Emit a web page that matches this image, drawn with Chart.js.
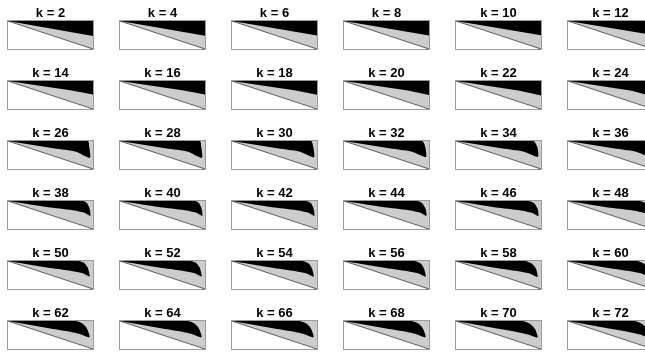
<!DOCTYPE html>
<html>
<head>
<meta charset="utf-8">
<script src="https://cdn.jsdelivr.net/npm/chart.js@4/dist/chart.umd.min.js"></script>
<style>
  html, body { margin: 0; padding: 0; background: #ffffff; overflow: hidden; }
  body { width: 645px; height: 352px; position: relative; }
  canvas { position: absolute; }
</style>
</head>
<body>
<script>
// Panel labels, one per small multiple (read row by row)
const kValues = [2, 4, 6, 8, 10, 12, 14, 16, 18, 20, 22, 24, 26, 28, 30, 32, 34, 36,
                 38, 40, 42, 44, 46, 48, 50, 52, 54, 56, 58, 60, 62, 64, 66, 68, 70, 72];

// Outline of the black region in each panel: [x, depth] with x in 0..1 left to right
// and depth in 0..1 measured down from the top edge. The path closes back to [0, 0].
const blackRegion = [
  [[0,0],[1,0],[1,0.54]],
  [[0,0],[1,0],[1,0.53]],
  [[0,0],[1,0],[1,0.52]],
  [[0,0],[1,0],[1,0.52]],
  [[0,0],[1,0],[1,0.51]],
  [[0,0],[1,0],[1,0.50]],

  [[0,0],[1,0],[1,0.48],[0.75,0.34]],
  [[0,0],[1,0],[1,0.48],[0.75,0.34]],
  [[0,0],[1,0],[1,0.49],[0.75,0.34]],
  [[0,0],[1,0],[1,0.50],[0.75,0.34]],
  [[0,0],[1,0],[1,0.52],[0.75,0.35]],
  [[0,0],[1,0],[1,0.55],[0.75,0.35]],

  [[0,0],[0.94,0],[0.955,0.2],[0.965,0.6],[0.8,0.38],[0.55,0.27]],
  [[0,0],[0.94,0],[0.955,0.2],[0.965,0.6],[0.8,0.38],[0.55,0.27]],
  [[0,0],[0.93,0],[0.955,0.2],[0.965,0.58],[0.8,0.38],[0.55,0.27]],
  [[0,0],[0.92,0],[0.955,0.2],[0.965,0.57],[0.8,0.38],[0.55,0.27]],
  [[0,0],[0.91,0],[0.955,0.2],[0.965,0.56],[0.8,0.38],[0.55,0.27]],
  [[0,0],[0.9,0],[0.955,0.2],[0.965,0.55],[0.8,0.38],[0.55,0.27]],

  [[0,0],[0.88,0],[0.93,0.08],[0.96,0.28],[0.97,0.53],[0.9,0.42],[0.75,0.32],[0.47,0.22]],
  [[0,0],[0.88,0],[0.93,0.08],[0.96,0.28],[0.97,0.53],[0.9,0.42],[0.75,0.32],[0.47,0.22]],
  [[0,0],[0.87,0],[0.93,0.08],[0.96,0.28],[0.97,0.53],[0.9,0.42],[0.75,0.32],[0.47,0.22]],
  [[0,0],[0.86,0],[0.92,0.08],[0.96,0.28],[0.97,0.53],[0.9,0.42],[0.75,0.32],[0.47,0.22]],
  [[0,0],[0.85,0],[0.92,0.08],[0.96,0.28],[0.97,0.54],[0.9,0.43],[0.75,0.33],[0.47,0.23]],
  [[0,0],[0.84,0],[0.91,0.08],[0.96,0.28],[0.97,0.54],[0.9,0.43],[0.75,0.33],[0.47,0.23]],

  [[0,0],[0.83,0],[0.9,0.08],[0.94,0.25],[0.96,0.55],[0.88,0.44],[0.72,0.34],[0.47,0.24]],
  [[0,0],[0.83,0],[0.9,0.08],[0.94,0.25],[0.96,0.55],[0.88,0.44],[0.72,0.34],[0.47,0.24]],
  [[0,0],[0.82,0],[0.9,0.08],[0.94,0.26],[0.96,0.56],[0.88,0.45],[0.72,0.35],[0.47,0.24]],
  [[0,0],[0.82,0],[0.9,0.08],[0.94,0.26],[0.96,0.56],[0.88,0.45],[0.72,0.35],[0.47,0.24]],
  [[0,0],[0.81,0],[0.89,0.09],[0.94,0.27],[0.96,0.57],[0.88,0.46],[0.72,0.36],[0.47,0.25]],
  [[0,0],[0.81,0],[0.89,0.09],[0.94,0.27],[0.96,0.57],[0.88,0.46],[0.72,0.36],[0.47,0.25]],

  [[0,0],[0.8,0],[0.88,0.1],[0.93,0.28],[0.96,0.58],[0.85,0.47],[0.7,0.37],[0.48,0.26]],
  [[0,0],[0.8,0],[0.88,0.1],[0.93,0.28],[0.96,0.58],[0.85,0.47],[0.7,0.37],[0.48,0.26]],
  [[0,0],[0.79,0],[0.88,0.1],[0.93,0.28],[0.96,0.58],[0.85,0.47],[0.7,0.37],[0.48,0.26]],
  [[0,0],[0.79,0],[0.88,0.1],[0.93,0.28],[0.96,0.58],[0.85,0.47],[0.7,0.37],[0.48,0.26]],
  [[0,0],[0.78,0],[0.87,0.1],[0.93,0.29],[0.96,0.59],[0.85,0.48],[0.7,0.38],[0.48,0.27]],
  [[0,0],[0.78,0],[0.87,0.1],[0.93,0.29],[0.96,0.59],[0.85,0.48],[0.7,0.38],[0.48,0.27]]
];

// The diagonal from the top-left to the bottom-right corner of each panel
const diagonal = [[0, 0], [1, 1]];

const COLS = 6;
const CELL_W = 112, CELL_H = 60;
const BOX_W = 85, BOX_H = 29;
const BOX_LEFT = 8, BOX_TOP = 20;

// Grey frame around each plotting region
const framePlugin = {
  id: 'frame',
  afterDraw(chart) {
    const {ctx, chartArea: a} = chart;
    ctx.save();
    ctx.strokeStyle = '#9a9a9a';
    ctx.lineWidth = 1;
    ctx.strokeRect(Math.round(a.left) - 0.5, Math.round(a.top) - 0.5,
                   Math.round(a.right - a.left) + 1, Math.round(a.bottom - a.top) + 1);
    ctx.restore();
  }
};

const toPoints = list => list.map(([x, y]) => ({x, y}));

kValues.forEach((k, i) => {
  const col = i % COLS, row = Math.floor(i / COLS);
  const canvas = document.createElement('canvas');
  canvas.width = CELL_W;
  canvas.height = CELL_H;
  canvas.style.left = (col * CELL_W) + 'px';
  canvas.style.top = (row * CELL_H) + 'px';
  document.body.appendChild(canvas);

  // curved outlines only for the rounded, fin-like regions
  const curved = blackRegion[i].length > 5;

  new Chart(canvas, {
    type: 'scatter',
    data: {
      datasets: [
        {
          // diagonal line drawn over the fills
          data: toPoints(diagonal),
          showLine: true,
          borderColor: '#3a3a3a',
          borderWidth: 0.8,
          pointRadius: 0,
          fill: false,
          order: 0
        },
        {
          data: toPoints(blackRegion[i]),
          showLine: true,
          borderColor: '#000000',
          borderWidth: 0,
          backgroundColor: '#000000',
          pointRadius: 0,
          tension: curved ? 0.2 : 0,
          fill: 'shape',
          order: 1
        },
        {
          // grey wedge between the diagonal and the top edge
          data: toPoints(diagonal),
          showLine: true,
          borderWidth: 0,
          backgroundColor: '#cccccc',
          pointRadius: 0,
          fill: {value: 0},
          order: 2
        }
      ]
    },
    options: {
      responsive: false,
      animation: false,
      events: [],
      layout: {
        padding: {
          left: BOX_LEFT,
          right: CELL_W - BOX_LEFT - BOX_W,
          top: 0,
          bottom: CELL_H - BOX_TOP - BOX_H
        }
      },
      scales: {
        x: {type: 'linear', min: 0, max: 1, display: false},
        y: {type: 'linear', min: 0, max: 1, reverse: true, display: false}
      },
      plugins: {
        legend: {display: false},
        tooltip: {enabled: false},
        title: {
          display: true,
          text: 'k = ' + k,
          color: '#000000',
          font: {family: 'Liberation Sans, Arial, sans-serif', size: 13, weight: 'bold', lineHeight: 1.2},
          padding: {top: 5.4, bottom: 0}
        }
      }
    },
    plugins: [framePlugin]
  });
});
</script>
</body>
</html>
